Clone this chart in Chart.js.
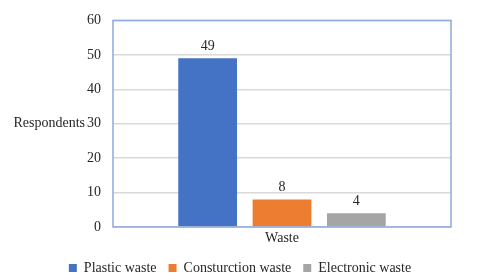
<!DOCTYPE html>
<html>
<head>
<meta charset="utf-8">
<script src="https://cdn.jsdelivr.net/npm/chart.js@4"></script>
<style>
  html, body { margin: 0; padding: 0; background: #fff; }
  #wrap { width: 480px; height: 280px; }
</style>
</head>
<body>
<div id="wrap"><canvas id="chart"></canvas></div>
<script>
const categories = ["Waste"];
const seriesNames = ["Plastic waste", "Consturction waste", "Electronic waste"];
const seriesValues = [[49], [8], [4]];
const seriesColors = ["#4472C4", "#ED7D31", "#A5A5A5"];
const yTicks = [0, 10, 20, 30, 40, 50, 60];
const yTitle = "Respondents";

const font = "'Liberation Serif', 'Times New Roman', serif";
Chart.defaults.font.family = font;
Chart.defaults.font.size = 14;
Chart.defaults.color = "#262626";

// horizontal y title, plot border and value labels
const extras = {
  id: "extras",
  afterDraw(chart) {
    const ctx = chart.ctx;
    const a = chart.chartArea;
    const y = chart.scales.y;
    ctx.save();
    ctx.strokeStyle = "#8FAADC";
    ctx.lineWidth = 1.5;
    ctx.strokeRect(a.left, a.top, a.right - a.left, a.bottom - a.top);

    ctx.font = "14px " + font;
    ctx.fillStyle = "#262626";
    ctx.textAlign = "right";
    ctx.textBaseline = "middle";
    ctx.fillText(yTitle, 85, y.getPixelForValue(30));

    ctx.textAlign = "center";
    ctx.textBaseline = "bottom";
    chart.data.datasets.forEach((ds, i) => {
      chart.getDatasetMeta(i).data.forEach((bar, j) => {
        ctx.fillText(ds.data[j], bar.x, bar.y - 5);
      });
    });
    ctx.restore();
  }
};

new Chart(document.getElementById("chart"), {
  type: "bar",
  data: {
    labels: categories,
    datasets: seriesNames.map((name, i) => ({
      label: name,
      data: seriesValues[i],
      backgroundColor: seriesColors[i],
      categoryPercentage: 0.66,
      barPercentage: 0.79
    }))
  },
  options: {
    responsive: true,
    maintainAspectRatio: false,
    animation: false,
    layout: { padding: { top: 12, right: 0, left: 0, bottom: -5 } },
    scales: {
      x: {
        grid: { display: false, drawTicks: false },
        border: { display: false },
        ticks: { padding: 3 },
        afterFit(scale) { scale.height = 22; }
      },
      y: {
        min: 0,
        max: 60,
        afterBuildTicks(scale) { scale.ticks = yTicks.map(v => ({ value: v })); },
        grid: { color: "#D9D9D9", lineWidth: 1.5, drawTicks: false },
        border: { display: false },
        ticks: { padding: 12 },
        afterFit(scale) { scale.width = 113; }
      },
      yRight: {
        position: "right",
        grid: { display: false, drawTicks: false },
        border: { display: false },
        ticks: { display: false },
        afterFit(scale) { scale.width = 29; }
      }
    },
    plugins: {
      legend: {
        position: "bottom",
        labels: { boxWidth: 8, boxHeight: 8, padding: 12, font: { size: 14 } }
      },
      tooltip: { enabled: false }
    }
  },
  plugins: [extras]
});
</script>
</body>
</html>
